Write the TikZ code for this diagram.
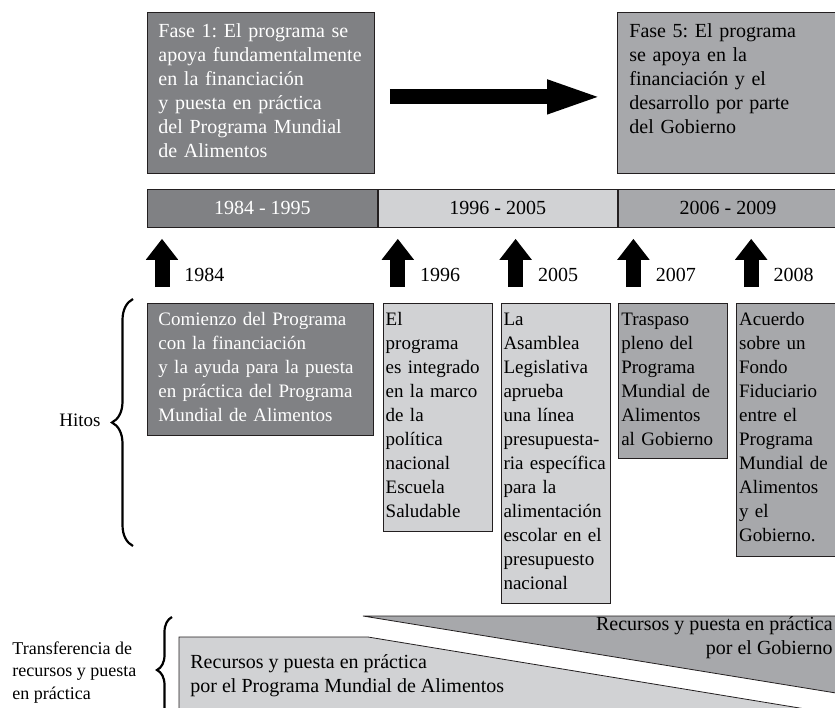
\documentclass[tikz,border=0pt]{standalone}
\usepackage{fontspec}
\setmainfont{Liberation Serif}
\usetikzlibrary{positioning,arrows.meta,decorations.pathreplacing}
\definecolor{darkfill}{RGB}{128,129,132}
\definecolor{midfill}{RGB}{167,168,171}
\definecolor{lightfill}{RGB}{209,210,212}
\definecolor{edge}{RGB}{35,31,32}
\hyphenpenalty=10000
\exhyphenpenalty=10000
\frenchspacing

\begin{document}
\begin{tikzpicture}[x=1pt,y=-1pt,>={Triangle},line width=0.8pt,
	every node/.style={inner sep=0pt,font=\fontsize{19}{24}\selectfont},
	fase/.style={draw=edge,anchor=north west,align=left,inner xsep=11pt,inner ysep=4pt,font=\fontsize{20}{24}\selectfont,text height=21pt,text depth=132pt},
	hito/.style={draw=edge,align=left,inner xsep=2.5pt,inner ysep=4pt,text height=18pt,text width=104pt},
	periodo/.style={draw=edge,minimum height=38pt,font=\fontsize{20}{24}\selectfont},
	anio/.style={font=\fontsize{20}{24}\selectfont},
	bigarrow/.style={line width=15pt,-{Triangle[width=30pt,length=57pt]},shorten <=15pt,shorten >=13pt},
	uparrow/.style={line width=15pt,-{Triangle[width=31pt,length=21pt]},shorten <=16pt,shorten >=11pt},
	llave/.style={decorate,line width=2.2pt,decoration={brace,amplitude=#1}},
	]
		\useasboundingbox (0,0) rectangle (835,707);
		
		% create the nodes
		\node (f1) [fase, fill=darkfill, text=white, text width=205pt] at (147,12) {Fase 1: El programa se\\apoya fundamentalmente\\en la financiación\\y puesta en práctica\\del Programa Mundial\\de Alimentos};
		\node (f5) [fase, fill=midfill, inner xsep=12pt, text width=195pt] at (617,12) {Fase 5: El programa\\se apoya en la\\financiación y el\\desarrollo por parte\\del Gobierno};
		
		\node (p1) [periodo, fill=darkfill, text=white, anchor=north west, minimum width=230pt] at (147,189) {1984 - 1995};
		\node (p2) [periodo, fill=lightfill, right=0pt of p1, minimum width=239pt] {1996 - 2005};
		\node (p3) [periodo, fill=midfill, right=0pt of p2, minimum width=220pt] {2006 - 2009};
		
		\node (h1) [hito, fill=darkfill, text=white, anchor=north west, inner xsep=11pt, text width=204pt, text depth=106pt] at (147,303) {Comienzo del Programa\\con la financiación\\y la ayuda para la puesta\\en práctica del Programa\\Mundial de Alimentos};
		\node (h2) [hito, fill=lightfill, right=9pt of h1.north east, anchor=north west, text depth=202pt] {El\\programa\\es integrado\\en la marco\\de la\\política\\nacional\\Escuela\\Saludable};
		\node (h3) [hito, fill=lightfill, right=8pt of h2.north east, anchor=north west, text depth=274pt] {La\\Asamblea\\Legislativa\\aprueba\\una línea\\presupuesta-\\ria específica\\para la\\alimentación\\escolar en el\\presupuesto\\nacional};
		\node (h4) [hito, fill=midfill, right=8pt of h3.north east, anchor=north west, text depth=129pt] {Traspaso\\pleno del\\Programa\\Mundial de\\Alimentos\\al Gobierno};
		\node (h5) [hito, fill=midfill, right=8pt of h4.north east, anchor=north west, text depth=227pt] {Acuerdo\\sobre un\\Fondo\\Fiduciario\\entre el\\Programa\\Mundial de\\Alimentos\\y el\\Gobierno.};
		
		\node (y1) [anio, above right=21pt and 37pt of h1.north west] {1984};
		\node (y2) [anio, above right=21pt and 37pt of h2.north west] {1996};
		\node (y3) [anio, above right=21pt and 37pt of h3.north west] {2005};
		\node (y4) [anio, above right=21pt and 37pt of h4.north west] {2007};
		\node (y5) [anio, above right=21pt and 37pt of h5.north west] {2008};
		
		\node (hitos) at (80,420) {Hitos};
		\node (trans) [anchor=north west, align=left, font=\fontsize{18}{22.5}\selectfont] at (12,641) {Transferencia de\\recursos y puesta\\en práctica};
		
		% the two bands at the bottom
		\filldraw[fill=midfill, draw=edge] (836,693) -- (363,616) -- (836,616);
		\filldraw[fill=lightfill, draw=edge] (179,712) -- (179,637) -- (368,637) -- (836,714);
		\node (gob) [anchor=north east, align=right, font=\fontsize{20}{24.5}\selectfont] at (833,616) {Recursos y puesta en práctica\\por el Gobierno};
		\node (pma) [anchor=north west, align=left, font=\fontsize{20}{24}\selectfont] at (190,654) {Recursos y puesta en práctica\\por el Programa Mundial de Alimentos};
		
		% connect the nodes
		\draw[bigarrow] ([yshift=-4pt]f1.east) -- ([yshift=-4pt]f5.west);
		
		\coordinate (a1) at ([xshift=15pt]h1.north west);
		\coordinate (a2) at ([xshift=15pt]h2.north west);
		\coordinate (a3) at ([xshift=15pt]h3.north west);
		\coordinate (a4) at ([xshift=15pt]h4.north west);
		\coordinate (a5) at ([xshift=15pt]h5.north west);
		\draw[uparrow] (a1) -- (a1 |- p1.south);
		\draw[uparrow] (a2) -- (a2 |- p2.south);
		\draw[uparrow] (a3) -- (a3 |- p2.south);
		\draw[uparrow] (a4) -- (a4 |- p3.south);
		\draw[uparrow] (a5) -- (a5 |- p3.south);
		
		\draw[llave=21pt] (133,546) -- (133,299);
		\draw[llave=15pt] (172,723) -- (172,617);
		
	\end{tikzpicture}
\end{document}
